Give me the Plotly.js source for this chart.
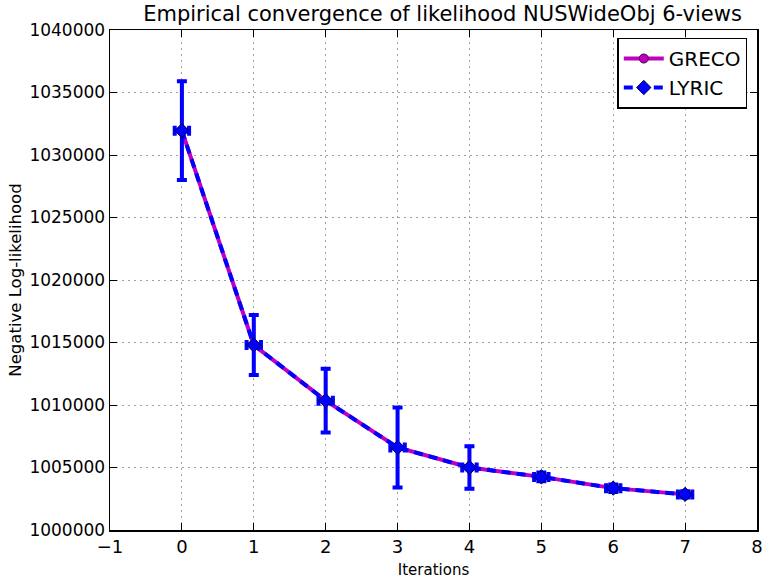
<!DOCTYPE html>
<html><head><meta charset="utf-8">
<script src="https://cdn.plot.ly/plotly-3.0.1.min.js"></script>
<style>body{margin:0;padding:0;background:#fff}#chart{width:763px;height:582px}</style>
</head><body><div id="chart"></div>
<script>
const iterations = [0, 1, 2, 3, 4, 5, 6, 7];
const grecoMean = [1031950, 1014800, 1010350, 1006600, 1005000, 1004250, 1003350, 1002850];
const grecoErr  = [3950, 2400, 2550, 3200, 1700, 350, 300, 250];
const lyricMean = [1031950, 1014800, 1010350, 1006600, 1005000, 1004250, 1003350, 1002850];
const lyricErr  = [3950, 2400, 2550, 3200, 1700, 350, 300, 250];
const iterErr = 0.1;

const font = 'DejaVu Sans, sans-serif';
const traces = [
  {
    x: iterations, y: grecoMean, name: 'GRECO', mode: 'lines+markers', type: 'scatter',
    line: {color: '#c000c0', width: 4},
    marker: {symbol: 'circle', size: 9, color: '#bf00bf', line: {color: '#400040', width: 1}},
    error_y: {type: 'data', array: grecoErr, visible: true, color: '#e000e0', thickness: 3, width: 4},
    error_x: {type: 'constant', value: iterErr, visible: true, color: '#e000e0', thickness: 3, width: 4}
  },
  {
    x: iterations, y: lyricMean, name: 'LYRIC', mode: 'lines+markers', type: 'scatter',
    line: {color: '#0000ff', width: 4, dash: '9px,6px'},
    marker: {symbol: 'diamond', size: 11, color: '#0000ff', line: {color: '#000040', width: 1}},
    error_y: {type: 'data', array: lyricErr, visible: true, color: '#0000ff', thickness: 4, width: 5},
    error_x: {type: 'constant', value: iterErr, visible: true, color: '#0000ff', thickness: 4, width: 5}
  }
];

const layout = {
  width: 763, height: 582,
  margin: {l: 110, r: 6, t: 30, b: 52},
  paper_bgcolor: '#fff', plot_bgcolor: '#fff',
  font: {family: font, color: '#000'},
  title: {text: 'Empirical convergence of likelihood NUSWideObj 6-views', font: {size: 21, family: font}, x: 0.58, xanchor: 'center', y: 0.99, yanchor: 'top'},
  xaxis: {
    range: [-1, 8], dtick: 1, tick0: 0,
    showgrid: true, gridcolor: '#a0a0a0', griddash: '2px,4px', gridwidth: 1,
    zeroline: false, showline: true, linecolor: '#000', linewidth: 1.5, mirror: 'allticks',
    ticks: 'inside', ticklen: 7, tickcolor: '#000',
    tickfont: {size: 18, family: font},
    title: {text: 'Iterations', font: {size: 15, family: font}, standoff: 8}
  },
  yaxis: {
    range: [1000000, 1040000], dtick: 5000, tick0: 1000000, tickformat: 'd',
    showgrid: true, gridcolor: '#a0a0a0', griddash: '2px,4px', gridwidth: 1,
    zeroline: false, showline: true, linecolor: '#000', linewidth: 1.5, mirror: 'allticks',
    ticks: 'inside', ticklen: 7, tickcolor: '#000',
    tickfont: {size: 17, family: font},
    title: {text: 'Negative Log-likelihood', font: {size: 16.5, family: font}, standoff: 3}
  },
  showlegend: true,
  legend: {
    x: 0.985, y: 0.985, xanchor: 'right', yanchor: 'top',
    bgcolor: '#fff', bordercolor: '#000', borderwidth: 1.5,
    font: {size: 20, family: font}, itemwidth: 40, tracegroupgap: 0
  }
};

Plotly.newPlot('chart', traces, layout, {displayModeBar: false, staticPlot: true});
</script></body></html>
